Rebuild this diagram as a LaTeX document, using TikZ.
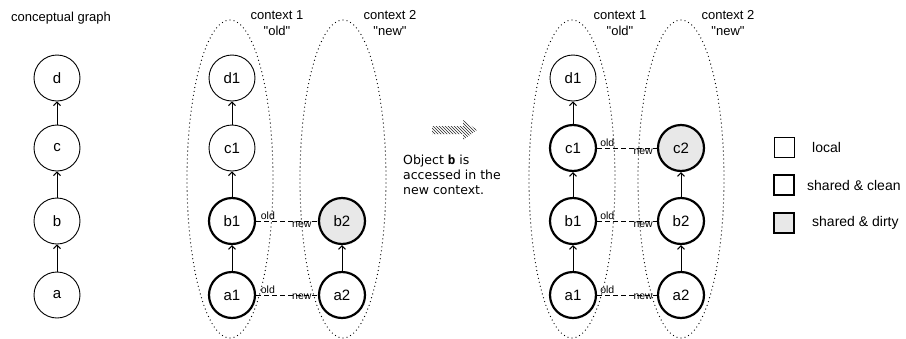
\documentclass[tikz,border=0pt]{standalone}
\usepackage{fontspec}
\setmainfont{Liberation Sans}
\newfontfamily\notefont{DejaVu Sans}
\newfontfamily\notemono{DejaVu Sans Mono}
\usetikzlibrary{arrows.meta,patterns}
\definecolor{dirtygray}{HTML}{E8E8E8}

\begin{document}
\begin{tikzpicture}[x=1pt,y=-1pt,
  obj/.style={circle, draw, line width=0.9pt, minimum size=46pt, inner sep=0pt,
    font=\fontsize{15}{17}\selectfont},
  shared/.style={obj, line width=2.2pt},
  dirty/.style={shared, fill=dirtygray},
  up/.style={-{Straight Barb[length=3.5pt,width=7pt]}, line width=1pt},
  link/.style={dashed, dash pattern=on 5pt off 3pt, line width=0.9pt},
  lbl/.style={font=\fontsize{10.5}{12}\selectfont, inner sep=1pt},
  ctx/.style={line width=1.3pt, dash pattern=on 0pt off 4pt, line cap=round},
  ctxlabel/.style={align=center, font=\fontsize{13}{16}\selectfont, inner sep=0pt},
  legbox/.style={draw, minimum width=20pt, minimum height=20pt, inner sep=0pt},
  legtext/.style={anchor=west, font=\fontsize{14}{16}\selectfont, inner sep=0pt}
]
\useasboundingbox (0,0) rectangle (906,338);

% ---- conceptual graph ----
\node[font=\fontsize{13}{15}\selectfont, inner sep=0pt] (title) at (61,18) {conceptual graph};
\node[obj] (a) at (57,295) {a};
\node[obj] (b) at (57,221) {b};
\node[obj] (c) at (57,148) {c};
\node[obj] (d) at (57,78) {d};
\draw[up] (a) -- (b);
\draw[up] (b) -- (c);
\draw[up] (c) -- (d);

% ---- before access ----
\draw[ctx] (230,179) ellipse [x radius=43pt, y radius=159pt];
\draw[ctx] (343,179) ellipse [x radius=43pt, y radius=159pt];
\node[ctxlabel] (lc1) at (277,23) {context 1\\\textquotedbl old\textquotedbl};
\node[ctxlabel] (lc2) at (390,23) {context 2\\\textquotedbl new\textquotedbl};

\node[shared] (ma1) at (232,295) {a1};
\node[shared] (mb1) at (232,221) {b1};
\node[obj] (mc1) at (232,148) {c1};
\node[obj] (md1) at (232,78) {d1};
\node[shared] (ma2) at (342,295) {a2};
\node[dirty] (mb2) at (342,221) {b2};
\draw[up] (ma1) -- (mb1);
\draw[up] (mb1) -- (mc1);
\draw[up] (mc1) -- (md1);
\draw[up] (ma2) -- (mb2);
\draw[link] (mb1) -- (mb2)
  node[lbl, pos=0.19, above] {old} node[lbl, pos=0.74, below, inner sep=0pt] {new};
\draw[link] (ma1) -- (ma2)
  node[lbl, pos=0.19, above] {old} node[lbl, pos=0.74, yshift=-2pt] {new};

% ---- transition arrow and note ----
\fill[pattern=north west lines, pattern color=black!85]
  (432,126) -- (463,126) -- (463,120) -- (477,130) -- (463,140) -- (463,134) -- (432,134) -- cycle;
\node[anchor=north west, align=left, inner sep=0pt,
  font=\notefont\fontsize{12.5}{15}\selectfont] (note) at (403,155)
  {Object {\notemono\bfseries b} is\\accessed in the\\new context.};

% ---- after access ----
\draw[ctx] (572,179) ellipse [x radius=43pt, y radius=159pt];
\draw[ctx] (681,179) ellipse [x radius=43pt, y radius=159pt];
\node[ctxlabel] (rc1) at (620,23) {context 1\\\textquotedbl old\textquotedbl};
\node[ctxlabel] (rc2) at (728,23) {context 2\\\textquotedbl new\textquotedbl};

\node[shared] (ra1) at (573,295) {a1};
\node[shared] (rb1) at (573,221) {b1};
\node[shared] (rc1n) at (573,148) {c1};
\node[obj] (rd1) at (573,78) {d1};
\node[shared] (ra2) at (681,295) {a2};
\node[shared] (rb2) at (681,221) {b2};
\node[dirty] (rc2n) at (681,148) {c2};
\draw[up] (ra1) -- (rb1);
\draw[up] (rb1) -- (rc1n);
\draw[up] (rc1n) -- (rd1);
\draw[up] (ra2) -- (rb2);
\draw[up] (rb2) -- (rc2n);
\draw[link] (rc1n) -- (rc2n)
  node[lbl, pos=0.17, above] {old} node[lbl, pos=0.77, below, inner sep=0pt] {new};
\draw[link] (rb1) -- (rb2)
  node[lbl, pos=0.17, above] {old} node[lbl, pos=0.77, below, inner sep=0pt] {new};
\draw[link] (ra1) -- (ra2)
  node[lbl, pos=0.17, above] {old} node[lbl, pos=0.77, yshift=-2pt] {new};

% ---- legend ----
\node[legbox, line width=1pt] (klocal) at (784,147) {};
\node[legbox, line width=2.2pt] (kclean) at (784,185) {};
\node[legbox, line width=2.2pt, fill=dirtygray] (kdirty) at (784,223) {};
\node[legtext] (tlocal) at (812,147) {local};
\node[legtext] (tclean) at (807,185) {shared \& clean};
\node[legtext] (tdirty) at (812,223) {shared \& dirty};
\end{tikzpicture}
\end{document}
